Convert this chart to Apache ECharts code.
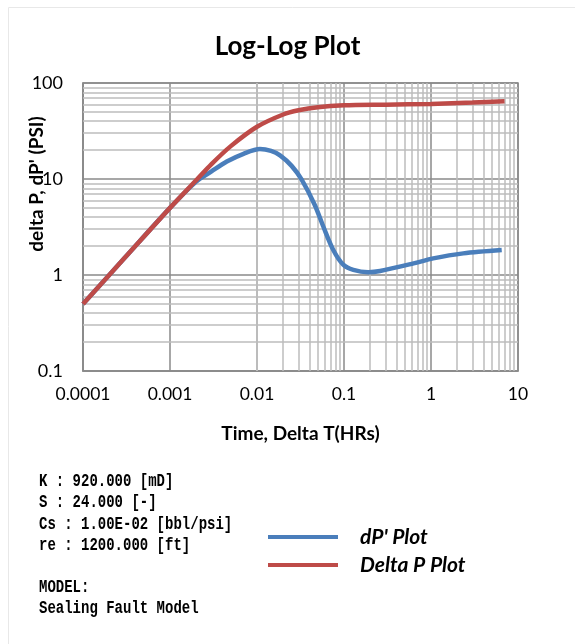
<!DOCTYPE html>
<html>
<head>
<meta charset="utf-8">
<title>Log-Log Plot</title>
<script src="https://cdn.jsdelivr.net/npm/echarts@6/dist/echarts.min.js"></script>
<style>
  html, body { margin: 0; padding: 0; background: #fff; }
  #chart { width: 575px; height: 644px; }
</style>
</head>
<body>
<div id="chart"></div>
<script>
  // time (hrs) and pressure values
  const dpTime = [0.0001, 0.0003, 0.001, 0.002, 0.003, 0.0045, 0.007, 0.0108, 0.0145, 0.0184, 0.025, 0.0325, 0.046, 0.0578, 0.0753, 0.098, 0.128, 0.19, 0.26, 0.63, 1.06, 2.35, 6.5]
  const dpValues = [0.5, 1.5, 5, 9.4, 12, 15.2, 18.3, 20.5, 19.6, 17.6, 13.7, 9.9, 5.4, 3.2, 1.82, 1.28, 1.13, 1.07, 1.1, 1.32, 1.49, 1.68, 1.82]

  const deltaTime = [0.0001, 0.0003, 0.001, 0.002, 0.003, 0.005, 0.01, 0.02, 0.03, 0.05, 0.1, 0.3, 1, 3, 7]
  const deltaValues = [0.5, 1.5, 5, 9.7, 14.3, 22, 35, 47, 52, 56, 58.5, 59.5, 60.5, 62.5, 64.5]

  const xDecades = [0.0001, 0.001, 0.01, 0.1, 1]
  const yDecades = [0.1, 1, 10]
  const minorSteps = [2, 3, 4, 5, 6, 7, 8, 9]

  const infoLines = [
    'K : 920.000 [mD]',
    'S : 24.000 [-]',
    'Cs : 1.00E-02 [bbl/psi]',
    're : 1200.000 [ft]',
    '',
    'MODEL:',
    'Sealing Fault Model'
  ]

  const pair = (xs, ys) => xs.map((x, i) => [x, ys[i]])

  // minor grid lines at 2..9 of every decade
  const minorLines = []
  xDecades.forEach(d => minorSteps.forEach(k => minorLines.push({xAxis: +(k * d).toPrecision(3)})))
  yDecades.forEach(d => minorSteps.forEach(k => minorLines.push({yAxis: +(k * d).toPrecision(3)})))

  const font = 'Lato, "Open Sans", sans-serif'
  const chart = echarts.init(document.getElementById('chart'))

  chart.setOption({
    animation: false,
    title: {
      text: 'Log-Log Plot',
      left: 'center',
      top: 29,
      textStyle: {fontFamily: font, fontSize: 26, fontWeight: 'bold', color: '#000'}
    },
    grid: {left: 83, top: 83, right: 57, bottom: 273, show: true, borderColor: '#8a8a8a', borderWidth: 1.5},
    xAxis: {
      type: 'log',
      logBase: 10,
      min: 0.0001,
      max: 10,
      name: 'Time, Delta T(HRs)',
      nameLocation: 'middle',
      nameGap: 53,
      nameTextStyle: {fontFamily: font, fontSize: 19, fontWeight: 'bold', color: '#000'},
      axisLine: {show: true, lineStyle: {color: '#8a8a8a', width: 1.5}},
      axisTick: {show: false},
      axisLabel: {
        margin: 14,
        fontFamily: font,
        fontSize: 17.5,
        color: '#000',
        formatter: v => String(+v.toPrecision(3))
      },
      splitLine: {show: true, lineStyle: {color: '#8a8a8a', width: 1.5}}
    },
    yAxis: {
      type: 'log',
      logBase: 10,
      min: 0.1,
      max: 100,
      axisLine: {show: true, lineStyle: {color: '#8a8a8a', width: 1.5}},
      axisTick: {show: false},
      axisLabel: {
        margin: 20,
        fontFamily: font,
        fontSize: 18,
        color: '#000',
        formatter: v => String(+v.toPrecision(3))
      },
      splitLine: {show: true, lineStyle: {color: '#8a8a8a', width: 1.5}}
    },
    legend: {
      data: ["dP' Plot", 'Delta P Plot'],
      orient: 'vertical',
      left: 263,
      top: 520,
      icon: 'rect',
      itemWidth: 70,
      itemHeight: 4,
      itemGap: 4,
      textStyle: {
        fontFamily: font,
        fontSize: 21,
        fontWeight: 'bold',
        fontStyle: 'italic',
        color: '#000',
        padding: [0, 0, 0, 17],
        lineHeight: 24
      }
    },
    graphic: [
      {
        type: 'rect',
        silent: true,
        shape: {x: 8.5, y: 7.5, width: 700, height: 700},
        style: {fill: null, stroke: '#e8e8e8', lineWidth: 1}
      },
      {
        type: 'text',
        x: 37,
        y: 184,
        rotation: Math.PI / 2,
        style: {
          text: "delta P, dP' (PSI)",
          fontFamily: font,
          fontSize: 19,
          fontWeight: 'bold',
          fill: '#000',
          align: 'center',
          verticalAlign: 'middle'
        }
      },
      {
        type: 'text',
        x: 39,
        y: 471,
        scaleY: 1.3,
        style: {
          text: infoLines.join('\n'),
          fontFamily: '"Liberation Mono", "DejaVu Sans Mono", monospace',
          fontSize: 14,
          fontWeight: 'bold',
          lineHeight: 16.3,
          verticalAlign: 'top',
          fill: '#000'
        }
      }
    ],
    series: [
      {
        name: 'grid',
        type: 'line',
        data: [],
        z: 0,
        silent: true,
        markLine: {
          silent: true,
          z: 1,
          symbol: 'none',
          label: {show: false},
          lineStyle: {color: '#bcbcbc', width: 1.5, type: 'solid'},
          data: minorLines
        }
      },
      {
        name: "dP' Plot",
        type: 'line',
        z: 3,
        data: pair(dpTime, dpValues),
        smooth: 0.3,
        showSymbol: false,
        lineStyle: {color: '#4a7ebb', width: 4.5},
        itemStyle: {color: '#4a7ebb'}
      },
      {
        name: 'Delta P Plot',
        type: 'line',
        z: 4,
        data: pair(deltaTime, deltaValues),
        smooth: 0.3,
        showSymbol: false,
        lineStyle: {color: '#be4b48', width: 4.5},
        itemStyle: {color: '#be4b48'}
      }
    ]
  })
</script>
</body>
</html>
